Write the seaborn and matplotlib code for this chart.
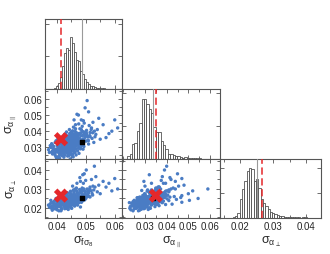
import numpy as np
import pandas as pd
import matplotlib
matplotlib.use("Agg")
import matplotlib.pyplot as plt
import seaborn as sns

# ---------------- data (read/estimated from the reference) ----------------
# Monte-Carlo realisations: (sigma_fs8, sigma_alpha_par, sigma_alpha_perp)
fs8 = [0.0445,0.0432,0.0458,0.0421,0.0467,0.0439,0.0451,0.0428,0.0474,0.0412,
       0.0447,0.0436,0.0462,0.0419,0.0483,0.0441,0.0455,0.0427,0.0470,0.0404,
       0.0449,0.0433,0.0459,0.0416,0.0478,0.0443,0.0452,0.0425,0.0466,0.0409,
       0.0490,0.0438,0.0457,0.0430,0.0472,0.0418,0.0446,0.0461,0.0435,0.0484,
       0.0422,0.0450,0.0469,0.0440,0.0454,0.0413,0.0476,0.0431,0.0463,0.0444,
       0.0407,0.0495,0.0437,0.0456,0.0426,0.0480,0.0448,0.0417,0.0465,0.0434,
       0.0453,0.0401,0.0487,0.0429,0.0460,0.0442,0.0471,0.0415,0.0458,0.0439,
       0.0424,0.0475,0.0447,0.0433,0.0464,0.0410,0.0498,0.0441,0.0455,0.0420,
       0.0468,0.0436,0.0450,0.0427,0.0482,0.0443,0.0462,0.0414,0.0457,0.0432,
       0.0473,0.0445,0.0423,0.0466,0.0438,0.0452,0.0406,0.0489,0.0430,0.0459,
       0.0444,0.0435,0.0453,0.0440,0.0449,0.0428,0.0461,0.0437,0.0456,0.0421,
       0.0448,0.0442,0.0467,0.0431,0.0454,0.0439,0.0446,0.0425,0.0463,0.0434,
       0.0450,0.0418,0.0472,0.0441,0.0457,0.0429,0.0447,0.0436,0.0460,0.0424,
       0.0452,0.0443,0.0432,0.0469,0.0411,0.0455,0.0438,0.0446,0.0426,0.0464,
       0.0433,0.0451,0.0419,0.0477,0.0440,0.0458,0.0427,0.0445,0.0437,0.0462,
       0.0416,0.0449,0.0430,0.0470,0.0442,0.0454,0.0422,0.0465,0.0435,0.0448,
       0.0505,0.0520,0.0545,0.0600,0.0560,0.0510,0.0530,0.0495,0.0580,0.0515,
       0.0488,0.0540,0.0475,0.0500,0.0525,0.0610,0.0492,0.0485,0.0570,0.0508,
       0.0460,0.0498,0.0535,0.0550,0.0512,0.0480,0.0590,0.0465,0.0502,0.0528,
       0.0395,0.0385,0.0398,0.0380,0.0402,0.0392,0.0388,0.0408,0.0375,0.0400,
       0.0470,0.0485,0.0458,0.0492,0.0476,0.0470,0.0455,0.0482,0.0468,0.0490,
       0.0372,0.0378,0.0383,0.0390,0.0395,0.0403,0.0397,0.0386,0.0405,0.0412,
       0.0494,0.0501,0.0507,0.0515,0.0497,0.0522,0.0491,0.0510,0.0486,0.0503,
       0.0445,0.0455,0.0432,0.0465,0.0450,0.0440,0.0425,0.0438,0.0418,0.0452,
       0.0410,0.0447,0.0428,0.0440,0.0415,0.0450,0.0433,0.0448,0.0460,0.0437,
       0.0380,0.0385,0.0392,0.0398,0.0402,0.0408,0.0413,0.0419,0.0423,0.0428,
       0.0434,0.0439,0.0444,0.0449,0.0454,0.0459,0.0464,0.0469,0.0474,0.0479,
       0.0484,0.0489,0.0494,0.0499,0.0504,0.0509,0.0514,0.0519,0.0524,0.0532,
       0.0383,0.0389,0.0394,0.0400,0.0405,0.0411,0.0417,0.0422,0.0427,0.0432,
       0.0437,0.0442,0.0447,0.0452,0.0457,0.0462,0.0467,0.0472,0.0477,0.0482,
       0.0443,0.0457,0.0471,0.0433,0.0448,0.0462,0.0426,0.0441,0.0455,0.0478]
apar = [0.0318,0.0297,0.0335,0.0289,0.0349,0.0326,0.0302,0.0311,0.0361,0.0276,
        0.0340,0.0284,0.0322,0.0305,0.0372,0.0293,0.0357,0.0268,0.0330,0.0282,
        0.0313,0.0345,0.0291,0.0320,0.0386,0.0271,0.0328,0.0299,0.0368,0.0262,
        0.0351,0.0308,0.0279,0.0337,0.0316,0.0287,0.0353,0.0301,0.0274,0.0342,
        0.0324,0.0285,0.0377,0.0258,0.0333,0.0295,0.0309,0.0346,0.0267,0.0321,
        0.0303,0.0382,0.0281,0.0360,0.0252,0.0325,0.0296,0.0339,0.0288,0.0315,
        0.0371,0.0271,0.0337,0.0306,0.0343,0.0264,0.0355,0.0283,0.0312,0.0348,
        0.0275,0.0294,0.0365,0.0290,0.0327,0.0318,0.0362,0.0300,0.0256,0.0331,
        0.0391,0.0278,0.0341,0.0310,0.0319,0.0286,0.0350,0.0265,0.0304,0.0329,
        0.0374,0.0260,0.0298,0.0334,0.0317,0.0292,0.0288,0.0398,0.0270,0.0323,
        0.0306,0.0327,0.0314,0.0295,0.0338,0.0303,0.0318,0.0289,0.0344,0.0312,
        0.0283,0.0332,0.0307,0.0320,0.0297,0.0341,0.0276,0.0292,0.0336,0.0309,
        0.0324,0.0280,0.0347,0.0314,0.0285,0.0335,0.0299,0.0322,0.0358,0.0287,
        0.0305,0.0343,0.0273,0.0328,0.0291,0.0319,0.0302,0.0350,0.0315,0.0294,
        0.0280,0.0337,0.0308,0.0340,0.0269,0.0330,0.0321,0.0290,0.0356,0.0311,
        0.0296,0.0326,0.0284,0.0363,0.0301,0.0277,0.0339,0.0316,0.0313,0.0348,
        0.0590,0.0420,0.0480,0.0470,0.0440,0.0520,0.0400,0.0450,0.0385,0.0365,
        0.0430,0.0410,0.0500,0.0375,0.0455,0.0420,0.0395,0.0410,0.0360,0.0345,
        0.0470,0.0545,0.0380,0.0350,0.0435,0.0415,0.0400,0.0440,0.0390,0.0330,
        0.0250,0.0275,0.0240,0.0300,0.0235,0.0262,0.0290,0.0245,0.0268,0.0230,
        0.0505,0.0470,0.0425,0.0465,0.0445,0.0330,0.0300,0.0295,0.0350,0.0320,
        0.0285,0.0310,0.0322,0.0305,0.0330,0.0345,0.0278,0.0258,0.0355,0.0360,
        0.0305,0.0338,0.0365,0.0392,0.0372,0.0355,0.0288,0.0320,0.0310,0.0405,
        0.0385,0.0402,0.0378,0.0415,0.0395,0.0370,0.0238,0.0245,0.0248,0.0250,
        0.0232,0.0228,0.0295,0.0315,0.0270,0.0300,0.0325,0.0310,0.0285,0.0335,
        0.0300,0.0315,0.0285,0.0340,0.0310,0.0295,0.0330,0.0350,0.0365,0.0380,
        0.0395,0.0360,0.0410,0.0372,0.0388,0.0367,0.0398,0.0345,0.0380,0.0356,
        0.0390,0.0372,0.0350,0.0395,0.0380,0.0340,0.0372,0.0410,0.0390,0.0365,
        0.0268,0.0280,0.0262,0.0290,0.0272,0.0255,0.0283,0.0265,0.0250,0.0276,
        0.0262,0.0248,0.0270,0.0258,0.0240,0.0268,0.0252,0.0278,0.0262,0.0290,
        0.0335,0.0348,0.0362,0.0352,0.0366,0.0381,0.0342,0.0356,0.0374,0.0334]
aperp = [0.0236,0.0229,0.0251,0.0221,0.0247,0.0240,0.0262,0.0218,0.0270,0.0213,
         0.0232,0.0245,0.0227,0.0238,0.0258,0.0206,0.0266,0.0231,0.0281,0.0209,
         0.0249,0.0226,0.0239,0.0201,0.0263,0.0253,0.0215,0.0242,0.0234,0.0228,
         0.0289,0.0222,0.0256,0.0235,0.0244,0.0250,0.0219,0.0272,0.0211,0.0236,
         0.0246,0.0230,0.0259,0.0224,0.0268,0.0233,0.0252,0.0207,0.0241,0.0277,
         0.0217,0.0264,0.0248,0.0225,0.0237,0.0283,0.0203,0.0243,0.0232,0.0260,
         0.0245,0.0220,0.0274,0.0214,0.0238,0.0254,0.0229,0.0240,0.0295,0.0223,
         0.0257,0.0249,0.0212,0.0234,0.0265,0.0226,0.0278,0.0244,0.0230,0.0216,
         0.0255,0.0239,0.0271,0.0208,0.0247,0.0227,0.0242,0.0251,0.0219,0.0262,
         0.0236,0.0233,0.0275,0.0221,0.0248,0.0258,0.0235,0.0268,0.0205,0.0243,
         0.0231,0.0243,0.0237,0.0250,0.0226,0.0238,0.0246,0.0229,0.0240,0.0232,
         0.0245,0.0253,0.0234,0.0241,0.0228,0.0236,0.0239,0.0247,0.0252,0.0218,
         0.0260,0.0230,0.0242,0.0225,0.0237,0.0249,0.0244,0.0231,0.0248,0.0236,
         0.0223,0.0258,0.0240,0.0235,0.0226,0.0254,0.0212,0.0233,0.0244,0.0261,
         0.0228,0.0239,0.0251,0.0246,0.0237,0.0220,0.0234,0.0266,0.0242,0.0230,
         0.0239,0.0247,0.0253,0.0238,0.0224,0.0245,0.0230,0.0256,0.0235,0.0249,
         0.0300,0.0350,0.0320,0.0355,0.0340,0.0290,0.0420,0.0380,0.0330,0.0310,
         0.0305,0.0285,0.0275,0.0345,0.0315,0.0300,0.0330,0.0295,0.0310,0.0282,
         0.0265,0.0250,0.0365,0.0275,0.0260,0.0360,0.0290,0.0300,0.0400,0.0295,
         0.0195,0.0188,0.0210,0.0200,0.0190,0.0215,0.0225,0.0185,0.0205,0.0198,
         0.0240,0.0230,0.0220,0.0255,0.0245,0.0330,0.0315,0.0340,0.0305,0.0375,
         0.0215,0.0222,0.0230,0.0212,0.0238,0.0226,0.0241,0.0203,0.0219,0.0247,
         0.0262,0.0251,0.0270,0.0258,0.0243,0.0276,0.0239,0.0285,0.0232,0.0267,
         0.0236,0.0248,0.0229,0.0257,0.0218,0.0252,0.0225,0.0233,0.0216,0.0240,
         0.0207,0.0228,0.0196,0.0192,0.0185,0.0201,0.0198,0.0288,0.0292,0.0280,
         0.0240,0.0228,0.0236,0.0250,0.0220,0.0245,0.0232,0.0262,0.0241,0.0228,
         0.0270,0.0256,0.0239,0.0275,0.0262,0.0284,0.0268,0.0290,0.0278,0.0297,
         0.0282,0.0270,0.0300,0.0288,0.0260,0.0278,0.0300,0.0290,0.0268,0.0310,
         0.0210,0.0198,0.0222,0.0205,0.0230,0.0214,0.0193,0.0242,0.0208,0.0218,
         0.0200,0.0226,0.0212,0.0198,0.0222,0.0210,0.0235,0.0215,0.0228,0.0205,
         0.0250,0.0257,0.0263,0.0246,0.0244,0.0251,0.0238,0.0231,0.0237,0.0255]

# fiducial (red cross / dashed line) and sample-mean (black dot / grey line)
ref_fid = [0.0415, 0.0350, 0.0265]
ref_mean = [0.0488, 0.0335, 0.0250]

# histogram bin counts on the diagonal
fs8_start, fs8_width = 0.0390, 0.0007
fs8_counts = [3, 8, 18, 38, 70, 110, 125, 118, 160, 140, 112, 90, 85, 55, 45,
              30, 20, 15, 10, 8, 6, 4, 3, 2, 2, 1]
apar_start, apar_width = 0.0218, 0.0011
apar_counts = [8, 16, 45, 48, 85, 110, 181, 181, 166, 150, 140, 98, 83, 83, 53,
               43, 30, 16, 14, 13, 10, 8, 5, 4, 6, 3, 2, 2, 3, 3, 2]
aperp_start, aperp_width = 0.0178, 0.0007
aperp_counts = [2, 4, 10, 37, 57, 74, 94, 100, 98, 74, 77, 60, 37, 30, 23, 17,
                12, 10, 7, 5, 3, 3, 2, 2, 1, 1, 1, 1, 1, 0, 1, 1]

names = ["fs8", "apar", "aperp"]
labels = [r"$\sigma_{f\sigma_8}$", r"$\sigma_{\alpha_{\parallel}}$",
          r"$\sigma_{\alpha_{\perp}}$"]
xlims = [(0.0360, 0.0625), (0.0194, 0.0646), (0.0139, 0.0445)]
ylims = {1: (0.0227, 0.0662), 2: (0.0147, 0.0458)}
xticks = [[0.04, 0.05, 0.06], [0.03, 0.04, 0.05, 0.06], [0.02, 0.03, 0.04]]
yticks = {1: [0.03, 0.04, 0.05, 0.06], 2: [0.02, 0.03, 0.04]}
hist_head = [1.34, 1.17, 1.17]

# ---------------- style ----------------
sns.set_style("ticks")
plt.rcParams["font.family"] = ["Liberation Sans", "DejaVu Sans"]
plt.rcParams["mathtext.fontset"] = "custom"
plt.rcParams["mathtext.rm"] = "Liberation Sans"
plt.rcParams["mathtext.it"] = "Liberation Sans"
plt.rcParams["mathtext.default"] = "regular"

df = pd.DataFrame({"fs8": fs8, "apar": apar, "aperp": aperp})
hists = [(fs8_start, fs8_width, fs8_counts),
         (apar_start, apar_width, apar_counts),
         (aperp_start, aperp_width, aperp_counts)]

fig = plt.figure(figsize=(3.3, 2.55), dpi=100)
gs = fig.add_gridspec(3, 3, left=45/330, right=321/330, top=1-20/255,
                      bottom=1-219/255, width_ratios=[77, 98, 101],
                      height_ratios=[70, 70, 59], wspace=0, hspace=0)

spine_c = "#555555"
blue = "#4a7cc4"
red = "#e5282b"

def style_ax(ax):
    for s in ax.spines.values():
        s.set_color(spine_c)
        s.set_linewidth(0.8)
        s.set_visible(True)
    ax.tick_params(direction="in", which="both", top=True, right=True,
                   color=spine_c, width=0.6, labelsize=7, pad=2)
    ax.tick_params(which="major", length=3)
    ax.tick_params(which="minor", length=2)

for i in range(3):
    for j in range(i + 1):
        ax = fig.add_subplot(gs[i, j])
        style_ax(ax)
        if i == j:
            start, width, counts = hists[i]
            edges = (start + width * np.arange(len(counts) + 1)).tolist()
            hdf = pd.DataFrame({"v": [e + width / 2 for e in edges[:-1]],
                                "n": counts})
            sns.histplot(data=hdf, x="v", weights="n", bins=edges, ax=ax,
                         color="white", edgecolor="#444444", linewidth=0.55,
                         alpha=1)
            ax.axvline(ref_mean[i], color="#9a9a9a", lw=0.8, zorder=3)
            ax.axvline(ref_fid[i], color=red, lw=1.3, ls=(0, (4, 2)),
                       alpha=0.85, zorder=4)
            ax.set_ylim(0, max(counts) * hist_head[i])
            ax.set_yticklabels([])
            ax.set_ylabel("")
        else:
            sns.scatterplot(data=df, x=names[j], y=names[i], ax=ax, s=6,
                            color=blue, edgecolor="none", linewidth=0,
                            alpha=1)
            ax.scatter([ref_mean[j]], [ref_mean[i]], marker="s", s=6,
                       color="black", zorder=5)
            ax.scatter([ref_fid[j]], [ref_fid[i]], marker="X", s=105,
                       color=red, edgecolor="none", zorder=6)
            ax.set_ylim(*ylims[i])
            ax.yaxis.set_major_locator(matplotlib.ticker.FixedLocator(yticks[i]))
            ax.yaxis.set_minor_locator(matplotlib.ticker.MultipleLocator(0.005))
            if j == 0:
                ax.set_ylabel(labels[i], fontsize=9, labelpad=3)
            else:
                ax.set_yticklabels([])
                ax.set_ylabel("")
        ax.set_xlim(*xlims[j])
        ax.xaxis.set_major_locator(matplotlib.ticker.FixedLocator(xticks[j]))
        ax.xaxis.set_minor_locator(matplotlib.ticker.MultipleLocator(0.005))
        if i == 2:
            ax.set_xlabel(labels[j], fontsize=9, labelpad=2)
            ax.set_xticklabels([f"{t:.2f}" for t in xticks[j]])
        else:
            ax.set_xticklabels([])
            ax.set_xlabel("")

fig.savefig("out.png", dpi=100)
